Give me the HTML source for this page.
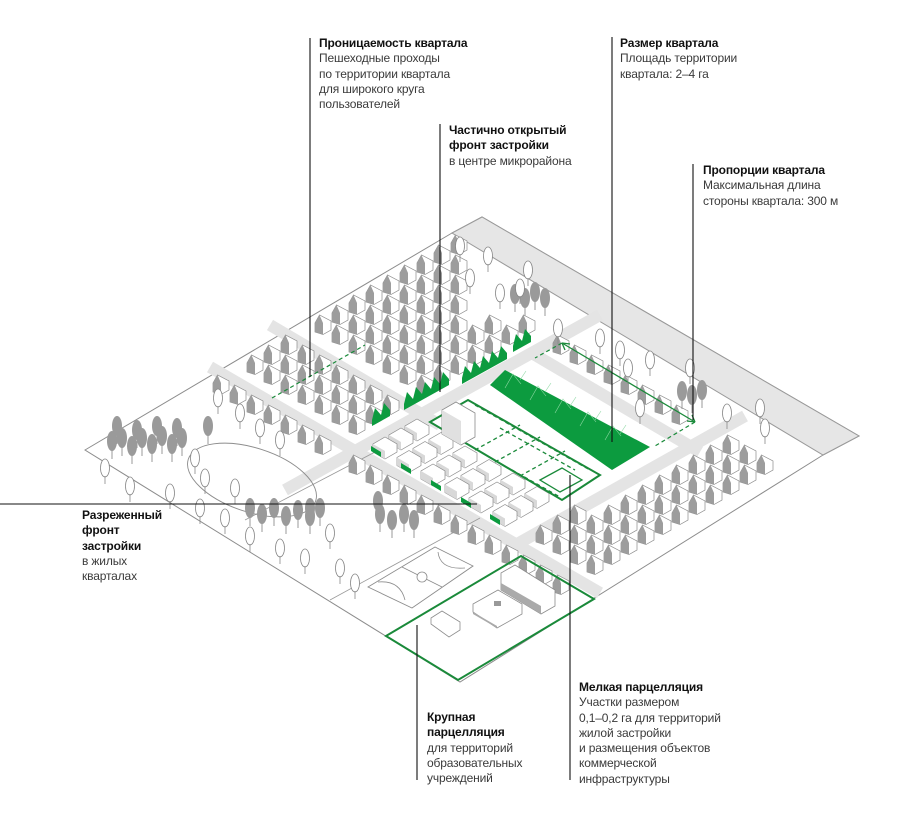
<!DOCTYPE html>
<html><head><meta charset="utf-8">
<style>
html,body{margin:0;padding:0;background:#fff;}
#w{position:relative;width:904px;height:822px;overflow:hidden;background:#fff;}
svg{position:absolute;left:0;top:0;}
.t{position:absolute;font-family:"Liberation Sans","DejaVu Sans",sans-serif;font-size:12px;line-height:15.3px;color:#3a3a3a;white-space:nowrap;letter-spacing:-0.15px;}
.t b{color:#111;font-weight:bold;}
</style></head><body>
<div id="w">
<svg id="s" width="904" height="822" viewBox="0 0 904 822" xmlns="http://www.w3.org/2000/svg">
<defs>
<symbol id="h" overflow="visible">
<path d="M-8,2 L-8,-7 L-3.5,-15 L8,-9 L8,0 L0,4.5 Z" fill="#fff" stroke="#8c8c8c" stroke-width="0.7"/>
<path d="M-8,2 L-8,-7 L-3.5,-15 L0,-7 L0,4.5 Z" fill="#9d9d9d"/>
</symbol>
<symbol id="b" overflow="visible">
<path d="M-12,0 L-12,-8 L0,-15 L12,-8 L12,0 L0,7 Z" fill="#fff" stroke="#8c8c8c" stroke-width="0.7"/>
<path d="M-12,-8 L0,-1 L0,7 L-12,0 Z" fill="#d8d8d8"/>
</symbol>
<symbol id="tg" overflow="visible">
<ellipse cx="0" cy="-14" rx="5" ry="10" fill="#9a9a9a"/><line x1="0" y1="-6" x2="0" y2="4" stroke="#9a9a9a" stroke-width="1"/>
</symbol>
<symbol id="to" overflow="visible">
<ellipse cx="0" cy="-12" rx="4.5" ry="9" fill="#fff" stroke="#888" stroke-width="0.8"/><line x1="0" y1="-4" x2="0" y2="4" stroke="#888" stroke-width="0.8"/>
</symbol>
</defs>
<polygon points="85,450 452,233 482,217 859,436 823,455 460,682" fill="#fff" stroke="#8c8c8c" stroke-width="1"/>
<polygon points="452,233 482,217 859,436 823,455" fill="#e6e6e6" stroke="#9a9a9a" stroke-width="1"/>
<g stroke="#e4e4e4" stroke-width="12" stroke-linecap="butt">
<line x1="210" y1="367" x2="600" y2="593"/>
<line x1="285" y1="490" x2="600" y2="315"/>
<line x1="510" y1="548" x2="745" y2="416"/>
<line x1="270" y1="325" x2="440" y2="425"/>
<line x1="530" y1="352" x2="700" y2="452"/>
</g>
<line x1="245" y1="520" x2="398" y2="440" stroke="#9a9a9a" stroke-width="0.8"/>
<line x1="330" y1="600" x2="480" y2="518" stroke="#9a9a9a" stroke-width="0.8"/>
<ellipse cx="252" cy="480" rx="67" ry="32" transform="rotate(18 252 480)" fill="none" stroke="#8c8c8c" stroke-width="0.9"/>
<polygon points="368,587 435,547 473,566 412,608" fill="#fff" stroke="#8c8c8c" stroke-width="0.9"/>
<line x1="402" y1="567" x2="442" y2="587" stroke="#8c8c8c" stroke-width="0.8"/>
<circle cx="422" cy="577" r="5" fill="#fff" stroke="#8c8c8c" stroke-width="0.8"/>
<path d="M378,582 Q400,580 405,600" fill="none" stroke="#8c8c8c" stroke-width="0.8"/>
<path d="M438,552 Q440,570 465,568" fill="none" stroke="#8c8c8c" stroke-width="0.8"/>
<g id="dyn"></g>
<polygon points="386,636 521,556 594,599 458,680" fill="none" stroke="#1a8a3a" stroke-width="2"/>
<path d="M501,583 L501,573 L515,565 L555,590 L555,606 L541,614 L501,590Z" fill="#fff" stroke="#8c8c8c" stroke-width="0.8"/>
<path d="M501,583 L541,606 L541,614 L501,590Z" fill="#aaa"/>
<path d="M473,612 L473,604 L498,590 L522,604 L522,614 L497,628Z" fill="#fff" stroke="#8c8c8c" stroke-width="0.8"/>
<path d="M473,612 L497,626 L497,628 L473,614Z" fill="#aaa"/>
<rect x="494" y="601" width="7" height="5" fill="#999"/>
<path d="M431,624 L431,618 L442,611 L460,622 L460,630 L449,637Z" fill="#fff" stroke="#8c8c8c" stroke-width="0.8"/>
<polygon points="490,385 505,370 650,447 612,470" fill="#0c9b3f"/>
<g stroke="#8fd9a5" stroke-width="0.6" fill="none">
<path d="M505,388 l8,-14 l8,10 M530,400 l8,-14 l8,10 M555,413 l8,-14 l8,10 M580,426 l8,-14 l8,10 M605,440 l8,-14 l8,10 M520,380 l6,-9 M545,392 l6,-9 M570,406 l6,-9 M595,420 l6,-9 M620,434 l6,-9"/>
</g>
<polygon points="430,422 468,400 600,475 562,500" fill="#fff" stroke="#1a8a3a" stroke-width="2"/>
<path d="M442,420 L442,410 L456,402 L475,413 L475,437 L461,445 L442,434Z" fill="#fff" stroke="#8c8c8c" stroke-width="0.8"/>
<path d="M442,410 L461,421 L461,445 L442,434Z" fill="#e0e0e0"/>
<g stroke="#1a8a3a" stroke-width="1.3" stroke-dasharray="4,3" fill="none">
<line x1="475" y1="405" x2="590" y2="470"/>
<line x1="475" y1="450" x2="520" y2="425"/>
<line x1="495" y1="462" x2="540" y2="437"/>
<line x1="520" y1="476" x2="565" y2="451"/>
<line x1="500" y1="428" x2="575" y2="470"/>
<line x1="512" y1="470" x2="560" y2="497"/>
</g>
<polygon points="540,480 562,468 582,480 560,492" fill="none" stroke="#1a8a3a" stroke-width="1.3"/>
<line x1="562" y1="343" x2="695" y2="422" stroke="#1a8a3a" stroke-width="1.3"/>
<path d="M562,343 l8,1 M562,343 l3,7 M695,422 l-8,-1 M695,422 l-3,-7" stroke="#1a8a3a" stroke-width="1.3"/>
<line x1="695" y1="422" x2="655" y2="446" stroke="#1a8a3a" stroke-width="1.2" stroke-dasharray="4,3"/>
<line x1="562" y1="343" x2="535" y2="358" stroke="#1a8a3a" stroke-width="1.2" stroke-dasharray="4,3"/>
<line x1="272" y1="398" x2="365" y2="345" stroke="#1a8a3a" stroke-width="1.2" stroke-dasharray="4,3"/>
<g id="top"></g>
<g stroke="#111" stroke-width="1.1">
<line x1="310" y1="38" x2="310" y2="377"/>
<line x1="440" y1="124" x2="440" y2="392"/>
<line x1="612" y1="37" x2="612" y2="442"/>
<line x1="693" y1="164" x2="693" y2="420"/>
<line x1="0" y1="504" x2="477" y2="504"/>
<line x1="417" y1="625" x2="417" y2="780"/>
<line x1="570" y1="475" x2="570" y2="780"/>
</g>
</svg>
<div class="t" style="left:319px;top:36px"><b>Проницаемость квартала</b><br>Пешеходные проходы<br>по территории квартала<br>для широкого круга<br>пользователей</div>
<div class="t" style="left:449px;top:123px"><b>Частично открытый<br>фронт застройки</b><br>в центре микрорайона</div>
<div class="t" style="left:620px;top:36px"><b>Размер квартала</b><br>Площадь территории<br>квартала: 2–4 га</div>
<div class="t" style="left:703px;top:163px"><b>Пропорции квартала</b><br>Максимальная длина<br>стороны квартала: 300 м</div>
<div class="t" style="left:82px;top:508px"><b>Разреженный<br>фронт<br>застройки</b><br>в жилых<br>кварталах</div>
<div class="t" style="left:427px;top:710px"><b>Крупная<br>парцелляция</b><br>для территорий<br>образовательных<br>учреждений</div>
<div class="t" style="left:579px;top:680px"><b>Мелкая парцелляция</b><br>Участки размером<br>0,1–0,2 га для территорий<br>жилой застройки<br>и размещения объектов<br>коммерческой<br>инфраструктуры</div>
</div>
<script>
(function(){
var NS="http://www.w3.org/2000/svg",g=document.getElementById("dyn"),top=document.getElementById("top");
function use(id,x,y,par){var u=document.createElementNS(NS,"use");u.setAttribute("href","#"+id);u.setAttributeNS("http://www.w3.org/1999/xlink","href","#"+id);u.setAttribute("x",x.toFixed(1));u.setAttribute("y",y.toFixed(1));(par||g).appendChild(u);}
function inPoly(p,poly){var c=false;for(var i=0,j=poly.length-1;i<poly.length;j=i++){var a=poly[i],b=poly[j];if(((a[1]>p[1])!=(b[1]>p[1]))&&(p[0]<(b[0]-a[0])*(p[1]-a[1])/(b[1]-a[1])+a[0]))c=!c;}return c;}
function dseg(p,a,b){var dx=b[0]-a[0],dy=b[1]-a[1],t=((p[0]-a[0])*dx+(p[1]-a[1])*dy)/(dx*dx+dy*dy);t=Math.max(0,Math.min(1,t));var x=a[0]+t*dx-p[0],y=a[1]+t*dy-p[1];return Math.sqrt(x*x+y*y);}
var scene=[[100,452],[452,245],[815,455],[600,585],[460,672]];
var roads=[[[210,367],[600,593]],[[285,490],[600,315]],[[510,548],[745,416]],[[270,325],[440,425]],[[530,352],[700,452]]];
var central=[[356,451],[540,350],[700,452],[517,544]];
var items=[];
for(var i=-5;i<40;i++)for(var j=-5;j<40;j++){
 var x=85+17*i+17*j,y=450-10*i+10*j,p=[x,y+4];
 if(!inPoly(p,scene))continue;
 var near=false;for(var k=0;k<roads.length;k++)if(dseg(p,roads[k][0],roads[k][1])<12)near=true;if(near)continue;
 if(inPoly(p,central))continue;
 var r1=y-(375+(x-225)*0.58);if(r1>22)continue;
 var ds=y-(233+0.6*(x-452));if(ds<40&&x>470)continue;
 if(x<200)continue;
 if(x>470&&x<560&&y<330)continue;
 items.push(["h",x,y]);
}
for(var a=0;a<3;a++)for(var b=0;b<6;b++){var x=385+a*16+b*24,y=452-a*9+b*13.5;items.push(["b",x,y]);}
items.sort(function(a,b){return a[2]-b[2];});
items.forEach(function(it){use(it[0],it[1],it[2]);});
[[382,452],[412,469],[442,486],[472,503],[501,520]].forEach(function(q){var r=document.createElementNS(NS,"path");r.setAttribute("d","M"+(q[0]-11)+","+(q[1]-6)+" l10,6 l0,5 l-10,-6Z");r.setAttribute("fill","#0c9b3f");g.appendChild(r);});
var gt=[[112,455],[122,452],[132,460],[142,452],[152,458],[162,450],[172,458],[182,452],[117,440],[137,444],[157,440],[177,442],[208,440],[250,522],[262,528],[274,522],[286,530],[298,524],[310,530],[320,522],[380,528],[392,534],[404,528],[414,534],[378,515],[515,308],[525,312],[535,306],[545,312],[682,405],[692,409],[702,404],[310,522]];
gt.forEach(function(t){use("tg",t[0],t[1],top);});
var ot=[[460,258],[488,268],[470,290],[520,300],[528,282],[500,305],[558,340],[620,362],[628,380],[650,372],[690,380],[727,425],[760,420],[765,440],[600,350],[105,480],[130,498],[170,505],[200,520],[225,530],[250,548],[280,560],[305,570],[330,545],[340,580],[355,595],[218,410],[240,425],[260,440],[280,452],[195,470],[205,490],[235,500],[640,420]];
ot.forEach(function(t){use("to",t[0],t[1],top);});
function hedge(x0,y0,n){var d="M"+x0+","+y0;for(var k=0;k<n;k++){var x=x0+k*9,y=y0-k*5;d+=" L"+(x+3)+","+(y-12)+" L"+(x+9)+","+(y-5);}d+=" L"+(x0+n*9)+","+(y0-n*5+6)+" L"+x0+","+(y0+6)+"Z";var p=document.createElementNS(NS,"path");p.setAttribute("d",d);p.setAttribute("fill","#0c9b3f");top.appendChild(p);}
hedge(404,404,5);hedge(462,378,5);hedge(372,420,2);hedge(513,346,2);
})();
</script>
</body></html>
